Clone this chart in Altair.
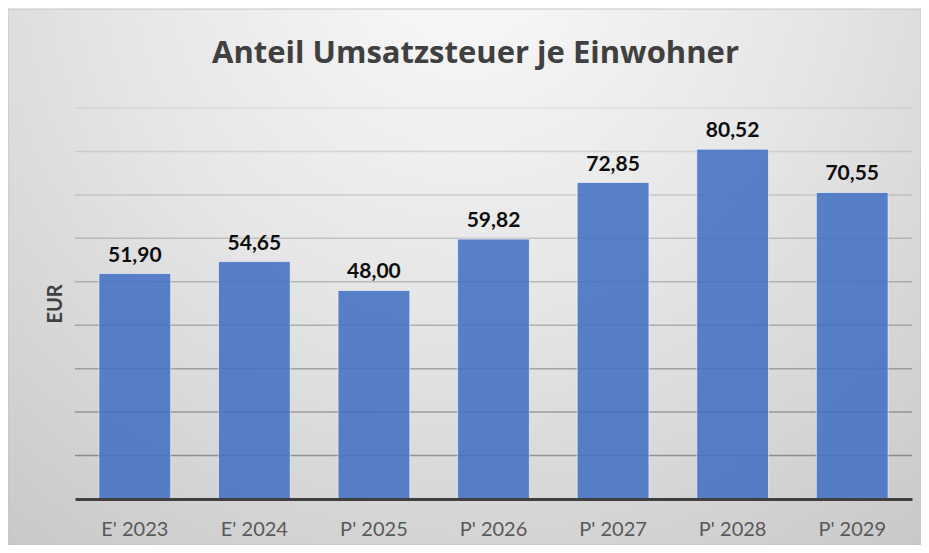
import altair as alt
import pandas as pd

categories = ["E' 2023", "E' 2024", "P' 2025", "P' 2026", "P' 2027", "P' 2028", "P' 2029"]
values = [51.90, 54.65, 48.00, 59.82, 72.85, 80.52, 70.55]
grid_values = [10, 20, 30, 40, 50, 60, 70, 80, 90]
title_text = "Anteil Umsatzsteuer je Einwohner"
y_title = "EUR"

df = pd.DataFrame({"Jahr": categories, "EUR": values})
grid_df = pd.DataFrame({"EUR": grid_values})

W, H = 837, 391
PAD_L, PAD_T, PAD_R, PAD_B = 67, 100, 9, 46
FONT = "Lato"

y_scale = alt.Scale(domain=[0, 90], nice=False)
y_axis = alt.Axis(labels=False, ticks=False, domain=False, grid=False, zindex=1,
                  titleFont=FONT, titleFontSize=20, titleFontWeight="bold",
                  titleColor="#404040", titlePadding=10)

bg = alt.Chart(pd.DataFrame({"a": [0]})).mark_rect(
    fill={
        "gradient": "radial",
        "x1": 0.5, "y1": 0.15, "r1": 0.0,
        "x2": 0.5, "y2": 0.15, "r2": 0.85,
        "stops": [
            {"offset": 0.0, "color": "#fafafa"},
            {"offset": 0.45, "color": "#e6e6e6"},
            {"offset": 1.0, "color": "#c6c6c6"},
        ],
    },
    stroke="#c4c4c4",
    strokeWidth=1,
).encode(
    x=alt.value(-PAD_L),
    x2=alt.value(W + PAD_R),
    y=alt.value(-PAD_T + 1),
    y2=alt.value(H + PAD_B),
)

grid = alt.Chart(grid_df).mark_rule(color="#000000", strokeWidth=1.5).encode(
    y=alt.Y("EUR:Q", title=y_title, scale=y_scale, axis=y_axis),
    x=alt.value(0),
    x2=alt.value(W),
    opacity=alt.Opacity("EUR:Q", scale=alt.Scale(domain=[10, 90], range=[0.33, 0.07]),
                        legend=None),
)

base = alt.Chart(df).encode(
    x=alt.X("Jahr:N", sort=categories, title=None,
            scale=alt.Scale(paddingInner=0.4, paddingOuter=0.2),
            axis=alt.Axis(labelAngle=0, labelFontSize=20, labelColor="#595959",
                          labelFont=FONT, labelPadding=20, ticks=False, zindex=1,
                          domainColor="#404040", domainWidth=3, grid=False)),
    y=alt.Y("EUR:Q", title=y_title, scale=y_scale, axis=y_axis),
)

bars = base.mark_bar(color="#4472C4", opacity=0.88, stroke="#ffffff",
                     strokeOpacity=0.6, strokeWidth=1)

labels = base.transform_calculate(
    lab="replace(format(datum.EUR, '.2f'), '.', ',')"
).mark_text(baseline="bottom", dy=-8, fontSize=21, fontWeight="bold",
            font=FONT, color="#0d0d0d").encode(text="lab:N")

title = alt.Chart(pd.DataFrame({"a": [0]})).mark_text(
    font="Open Sans", fontSize=31, fontWeight="bold", color="#404040",
    align="center", baseline="alphabetic",
).encode(
    x=alt.value(475.5 - 75),
    y=alt.value(63 - 108),
    text=alt.value(title_text),
)

chart = alt.layer(bg, grid, bars, labels, title).properties(
    width=W, height=H,
    autosize=alt.AutoSizeParams(type="none"),
    padding={"left": PAD_L, "top": PAD_T, "right": PAD_R, "bottom": PAD_B},
).configure_view(stroke=None).configure(background="#ffffff")

chart.save("out.html", embed_options={"renderer": "svg", "actions": False})
